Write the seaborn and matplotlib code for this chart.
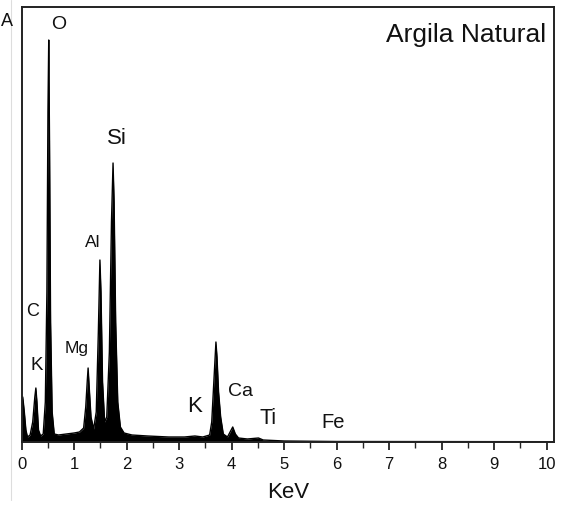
import matplotlib
matplotlib.use("Agg")
import matplotlib.pyplot as plt
from matplotlib.lines import Line2D
from matplotlib.ticker import MultipleLocator
import numpy as np
import pandas as pd
import seaborn as sns

# EDS spectrum of the natural clay sample, traced as (energy, counts) vertices
energy_kev = [0.00, 0.02, 0.05, 0.08, 0.11, 0.16, 0.21, 0.25, 0.27, 0.29, 0.32, 0.36,
              0.41, 0.45, 0.48, 0.50, 0.515, 0.53, 0.55, 0.58, 0.62, 0.70, 0.85, 1.00,
              1.10, 1.18, 1.22, 1.25, 1.265, 1.28, 1.32, 1.37, 1.42, 1.46, 1.49, 1.51,
              1.54, 1.58, 1.62, 1.67, 1.71, 1.74, 1.76, 1.79, 1.83, 1.88, 1.95, 2.10,
              2.40, 2.80, 3.10, 3.30, 3.45, 3.58, 3.62, 3.66, 3.70, 3.72, 3.75, 3.79,
              3.84, 3.92, 3.97, 4.02, 4.07, 4.13, 4.30, 4.51, 4.60, 5.00, 6.00, 10.15]
counts = [300, 450, 300, 120, 50, 70, 200, 450, 540, 400, 120, 60,
          80, 400, 1500, 3300, 4020, 3000, 1200, 300, 80, 70, 80, 90,
          100, 140, 350, 620, 740, 600, 250, 130, 300, 1100, 1820, 1500,
          600, 200, 250, 900, 2200, 2790, 2400, 1200, 400, 150, 90, 70,
          60, 50, 50, 60, 50, 70, 200, 600, 1000, 850, 500, 250,
          80, 50, 100, 150, 80, 40, 30, 40, 20, 10, 5, 3]

# Element labels: text, energy position, count position, font size
label_text = ["O", "Si", "Al", "C", "K", "Mg", "K", "Ca", "Ti", "Fe"]
label_kev = [0.70, 1.82, 1.35, 0.20, 0.29, 1.05, 3.29, 4.17, 4.70, 5.94]
label_counts = [4180, 3040, 2000, 1310, 770, 930, 350, 500, 240, 200]
label_size = [14, 16, 12.5, 13, 13.5, 12.5, 16, 14, 15.5, 14.5]

xticks = list(range(0, 11))

df = pd.DataFrame({"energy": energy_kev, "counts": counts})

sns.set_style("white")
plt.rcParams["font.family"] = ["Liberation Sans", "DejaVu Sans"]

fig = plt.figure(figsize=(5.67, 5.15), dpi=100)
ax = fig.add_axes([21.7 / 567, 1 - 442 / 515, (554 - 21.7) / 567, (442 - 7) / 515])

ax.fill_between(df["energy"], 0, df["counts"], color="black", linewidth=0)
sns.lineplot(data=df, x="energy", y="counts", ax=ax, color="black",
             linewidth=1.0, estimator=None, sort=False)

ax.set_xlim(0, 10.14)
ax.set_ylim(0, 4350)

for txt, xk, yc, fs in zip(label_text, label_kev, label_counts, label_size):
    ax.text(xk, yc, txt, ha="center", va="center", fontsize=fs, color="#111111")

ax.text(0.985, 0.935, "Argila Natural", transform=ax.transAxes, ha="right",
        va="center", fontsize=19, color="#111111")

ax.set_xticks(xticks)
ax.set_xticklabels([str(t) for t in xticks])
ax.xaxis.set_minor_locator(MultipleLocator(0.5))
ax.set_yticks([])
ax.tick_params(axis="x", which="major", direction="out", length=6, width=1.2,
               labelsize=12, pad=5, colors="#111111", bottom=True)
ax.tick_params(axis="x", which="minor", direction="out", length=4, width=1.0,
               bottom=True)
ax.set_xlabel("KeV", fontsize=16, labelpad=7, color="#111111")
ax.set_ylabel("")

for side in ["left", "right", "top", "bottom"]:
    ax.spines[side].set_visible(True)
    ax.spines[side].set_color("#222222")
    ax.spines[side].set_linewidth(1.4)

fig.text(0.5 / 567, 1 - 22 / 515, "A", ha="left", va="center", fontsize=13,
         color="#111111")
fig.add_artist(Line2D([11 / 567, 11 / 567], [0.03, 1.0], color="#dddddd",
                      linewidth=0.8, transform=fig.transFigure))

fig.savefig("out.png", dpi=100)
